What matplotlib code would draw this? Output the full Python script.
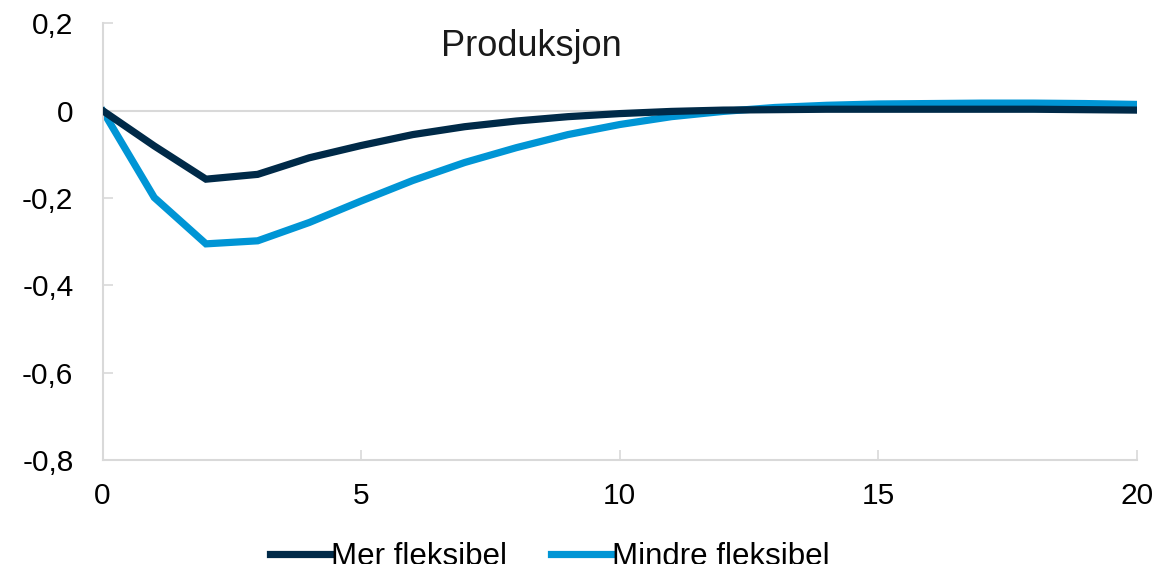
import matplotlib.pyplot as plt
from matplotlib.ticker import FuncFormatter

# Impulse responses, quarters 0-20
quarters = list(range(21))
mer_fleksibel = [0.0, -0.081, -0.157, -0.146, -0.108, -0.080, -0.055, -0.037, -0.024,
                 -0.014, -0.007, -0.002, 0.001, 0.002, 0.003, 0.003, 0.003, 0.003,
                 0.003, 0.002, 0.001]
mindre_fleksibel = [0.0, -0.199, -0.305, -0.298, -0.256, -0.207, -0.160, -0.119, -0.085,
                    -0.055, -0.032, -0.014, -0.002, 0.007, 0.012, 0.015, 0.016, 0.017,
                    0.017, 0.016, 0.014]
series_labels = ["Mer fleksibel", "Mindre fleksibel"]
title = "Produksjon"

DARK = "#002A48"
LIGHT = "#0095D5"
GREY = "#D9D9D9"

plt.rcParams["font.family"] = ["Liberation Sans", "DejaVu Sans"]

fig = plt.figure(figsize=(11.6, 5.64), dpi=100)
ax = fig.add_axes([0.0884, 0.184, 0.8916, 0.775])

ax.axhline(0, color=GREY, lw=1.5, zorder=1)
ax.plot(quarters, mer_fleksibel, color=DARK, lw=5.2, label=series_labels[0],
        solid_joinstyle="miter", zorder=3)
ax.plot(quarters, mindre_fleksibel, color=LIGHT, lw=5.2, label=series_labels[1],
        solid_joinstyle="miter", zorder=2)

ax.set_xlim(0, 20)
ax.set_ylim(-0.8, 0.2)
ax.set_xticks([0, 5, 10, 15, 20])
ax.set_yticks([-0.8, -0.6, -0.4, -0.2, 0, 0.2])
ax.yaxis.set_major_formatter(FuncFormatter(
    lambda v, _: "0" if abs(v) < 1e-9 else f"{v:.1f}".replace(".", ",")))

for side in ("top", "right"):
    ax.spines[side].set_visible(False)
for side in ("left", "bottom"):
    ax.spines[side].set_color(GREY)
    ax.spines[side].set_linewidth(1.5)
ax.tick_params(axis="both", direction="in", length=7, width=1.2, color=GREY,
               labelsize=21.5, labelcolor="black")
ax.tick_params(axis="y", pad=21)
ax.tick_params(axis="x", pad=16)

ax.text(8.3, 0.147, title, fontsize=26, ha="center", va="center", color="#1a1a1a")

# legend sits at the very bottom edge, partly clipped
fig.legend(loc="center", bbox_to_anchor=(0.474, 0.012), ncol=2, frameon=False,
           fontsize=22.5, handlelength=1.92, handletextpad=0.03, columnspacing=1.4)

fig.savefig("out.png", dpi=100)
